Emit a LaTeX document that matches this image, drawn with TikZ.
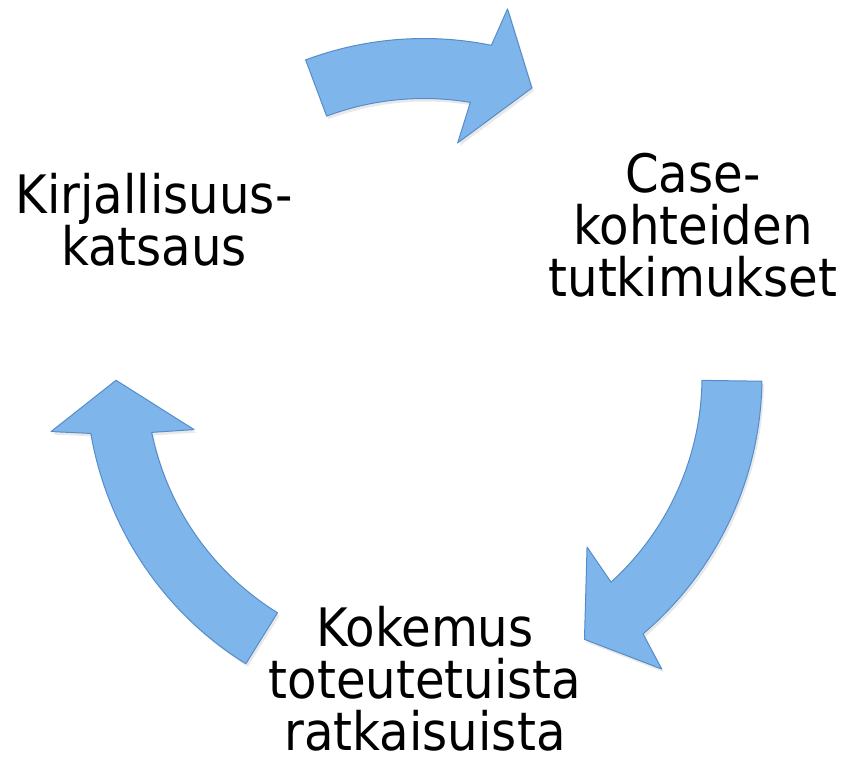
\documentclass[tikz,border=0pt]{standalone}
\usepackage{fontspec}
\setmainfont{DejaVu Sans}[FakeStretch=0.91]
\usepackage{tikz}
\usetikzlibrary{shadows}

\definecolor{arrowblue}{RGB}{126,181,235}
\definecolor{arrowedge}{RGB}{86,140,204}

\begin{document}
\begin{tikzpicture}[x=1pt, y=1pt,
  cyclelabel/.style={align=center, inner sep=0pt, font=\fontsize{53}{52}\selectfont},
  cyclearrow/.style={fill=arrowblue, draw=arrowedge, line width=1pt, line join=round,
    drop shadow={shadow xshift=2pt, shadow yshift=-3pt, opacity=0.18}}]
\useasboundingbox (0,0) rectangle (845,760);

\node[cyclelabel] (kirj) at (154,540.5) {Kirjallisuus-\\katsaus};
\node[cyclelabel] (case) at (693,535) {Case-\\kohteiden\\tutkimukset};
\node[cyclelabel] (koke) at (425,81) {Kokemus\\toteutetuista\\ratkaisuista};

\coordinate (hub) at (424,383.5);

\begin{scope}[shift={(hub)}]
% kirjallisuus -> case
\path[cyclearrow] (110.5:338) arc[start angle=110.5, end angle=78.5, radius=338]
  -- (77.2:377) -- (69.5:308) -- (81.8:236) -- (80.4:278)
  arc[start angle=80.4, end angle=110.5, radius=278] -- cycle;
% case -> kokemus
\path[cyclearrow] (-0.8:338) arc[start angle=-0.8, end angle=-49.6, radius=338]
  -- (-50.9:377) -- (-58.6:308) -- (-46.3:236) -- (-47.7:278)
  arc[start angle=-47.7, end angle=-0.8, radius=278] -- cycle;
% kokemus -> kirjallisuus
\path[cyclearrow] (238.2:338) arc[start angle=238.2, end angle=189.7, radius=338]
  -- (188.4:377) -- (180.7:308) -- (193.0:236) -- (191.6:278)
  arc[start angle=191.6, end angle=238.2, radius=278] -- cycle;
\end{scope}
\end{tikzpicture}
\end{document}
